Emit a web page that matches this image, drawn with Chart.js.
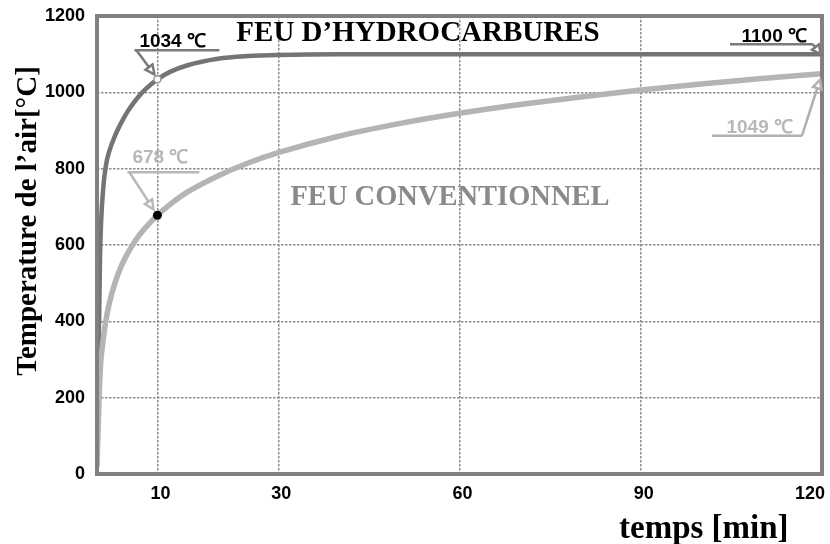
<!DOCTYPE html>
<html>
<head>
<meta charset="utf-8">
<script src="https://cdn.jsdelivr.net/npm/chart.js@4.4.1/dist/chart.umd.min.js"></script>
<style>
  html, body { margin: 0; padding: 0; background: #fff; }
  canvas { display: block; }
</style>
</head>
<body>
<canvas id="fireChart" width="830" height="544"></canvas>
<script>
// ---------- DATA ----------
const times = [0, 0.5, 1, 1.5, 2, 3, 4, 5, 6, 7, 8, 10, 12, 15, 20, 25, 30, 40, 50, 60, 70, 80, 90, 100, 110, 120];
const hydroTemps = [20, 568, 743, 810, 844, 887, 920, 948, 971, 991, 1008, 1034, 1053, 1071, 1088, 1095, 1098, 1100, 1100, 1100, 1100, 1100, 1100, 1100, 1100, 1100];
const isoTemps = [20, 261, 349, 404, 445, 502, 544, 576, 603, 626, 645, 678, 705, 739, 781, 815, 842, 885, 918, 945, 968, 988, 1006, 1022, 1036, 1049];

const xTicks = [10, 30, 60, 90, 120];
const yTicks = [0, 200, 400, 600, 800, 1000, 1200];

// marked values (time, temperature)
const markTimes = [10, 10, 120, 120];
const markTemps = [1034, 678, 1100, 1049];

const hydroName = "FEU D\u2019HYDROCARBURES";
const isoName = "FEU CONVENTIONNEL";
const yTitle = "Temperature de l\u2019air[\u00B0C]";
const xTitle = "temps [min]";

const serif = "'Liberation Serif', 'Times New Roman', serif";

// ---------- HELPERS ----------
function toPoints(xs, ys) {
  return xs.map((x, i) => ({ x: x, y: ys[i] }));
}

function arrow(ctx, x1, y1, x2, y2) {
  const ang = Math.atan2(y2 - y1, x2 - x1);
  const len = 10, spread = 0.45;
  ctx.beginPath();
  ctx.moveTo(x1, y1);
  ctx.lineTo(x2 - Math.cos(ang) * len * 0.8, y2 - Math.sin(ang) * len * 0.8);
  ctx.stroke();
  ctx.beginPath();
  ctx.moveTo(x2, y2);
  ctx.lineTo(x2 - len * Math.cos(ang - spread), y2 - len * Math.sin(ang - spread));
  ctx.lineTo(x2 - len * Math.cos(ang + spread), y2 - len * Math.sin(ang + spread));
  ctx.closePath();
  ctx.fillStyle = "#fff";
  ctx.fill();
  ctx.stroke();
}

// ---------- OVERLAY PLUGIN ----------
const overlay = {
  id: "overlay",
  afterDatasetsDraw(chart) {
    const ctx = chart.ctx;
    const area = chart.chartArea;
    const xs = chart.scales.x, ys = chart.scales.y;
    ctx.save();

    // frame
    ctx.strokeStyle = "#808080";
    ctx.lineWidth = 4;
    ctx.strokeRect(area.left, area.top, area.right - area.left, area.bottom - area.top);

    // curve names
    ctx.textAlign = "center";
    ctx.textBaseline = "alphabetic";
    ctx.font = "bold 29px " + serif;
    ctx.fillStyle = "#000";
    ctx.fillText(hydroName, 418, 41);
    ctx.font = "bold 28.5px " + serif;
    ctx.fillStyle = "#8a8a8a";
    ctx.fillText(isoName, 450, 205);

    // axis titles
    ctx.save();
    ctx.translate(29, 221);
    ctx.rotate(-Math.PI / 2);
    ctx.font = "bold 29px " + serif;
    ctx.fillStyle = "#000";
    ctx.textBaseline = "middle";
    ctx.fillText(yTitle, 0, 0);
    ctx.restore();

    ctx.font = "bold 33px " + serif;
    ctx.fillStyle = "#000";
    ctx.textAlign = "left";
    ctx.fillText(xTitle, 619, 538);

    // value call-outs
    const pts = markTimes.map((t, i) => ({ x: xs.getPixelForValue(t), y: ys.getPixelForValue(markTemps[i]) }));
    const label = v => v + " \u2103";
    ctx.font = "bold 19px 'Liberation Sans', Arial, sans-serif";
    ctx.lineWidth = 2.5;

    // 1034
    let p = pts[0];
    ctx.fillStyle = "#000";
    ctx.textAlign = "left";
    ctx.fillText(label(markTemps[0]), p.x - 18, p.y - 32);
    ctx.strokeStyle = "#7a7a7a";
    ctx.beginPath(); ctx.moveTo(p.x - 23, p.y - 29); ctx.lineTo(p.x + 62, p.y - 29); ctx.stroke();
    arrow(ctx, p.x - 21, p.y - 29, p.x - 3, p.y - 5);
    ctx.lineWidth = 1.5;
    ctx.strokeStyle = "#999";
    ctx.fillStyle = "#fff";
    ctx.beginPath(); ctx.arc(p.x, p.y, 3.5, 0, Math.PI * 2); ctx.fill(); ctx.stroke();

    // 678
    ctx.lineWidth = 2.5;
    p = pts[1];
    ctx.fillStyle = "#b8b8b8";
    ctx.fillText(label(markTemps[1]), p.x - 25, p.y - 52);
    ctx.strokeStyle = "#b8b8b8";
    ctx.beginPath(); ctx.moveTo(p.x - 30, p.y - 43); ctx.lineTo(p.x + 42, p.y - 43); ctx.stroke();
    arrow(ctx, p.x - 28, p.y - 43, p.x - 4, p.y - 6);
    ctx.fillStyle = "#000";
    ctx.beginPath(); ctx.arc(p.x, p.y, 4.5, 0, Math.PI * 2); ctx.fill();

    // 1100
    p = pts[2];
    ctx.fillStyle = "#000";
    ctx.textAlign = "right";
    ctx.fillText(label(markTemps[2]), p.x - 15, p.y - 12);
    ctx.strokeStyle = "#7a7a7a";
    ctx.beginPath(); ctx.moveTo(p.x - 92, p.y - 10); ctx.lineTo(p.x - 9, p.y - 10); ctx.stroke();
    arrow(ctx, p.x - 9, p.y - 10, p.x - 1, p.y);

    // 1049
    p = pts[3];
    ctx.fillStyle = "#b8b8b8";
    ctx.fillText(label(markTemps[3]), p.x - 29, p.y + 59);
    ctx.strokeStyle = "#b0b0b0";
    ctx.beginPath(); ctx.moveTo(p.x - 110, p.y + 62); ctx.lineTo(p.x - 20, p.y + 62); ctx.stroke();
    arrow(ctx, p.x - 20, p.y + 62, p.x - 2, p.y + 6);

    ctx.restore();
  }
};

// ---------- CHART ----------
const tickFont = { family: "'Liberation Sans', Arial, sans-serif", size: 18, weight: "bold" };
const gridCfg = { color: "#8c8c8c", lineWidth: 1.5, drawTicks: false };
const plainNumber = v => String(v);

new Chart(document.getElementById("fireChart"), {
  type: "line",
  data: {
    datasets: [
      {
        label: isoName,
        data: toPoints(times, isoTemps),
        borderColor: "#b4b4b4",
        borderWidth: 5.5,
        pointRadius: 0,
        cubicInterpolationMode: "monotone",
      },
      {
        label: hydroName,
        data: toPoints(times, hydroTemps),
        borderColor: "#747474",
        borderWidth: 4.5,
        pointRadius: 0,
        cubicInterpolationMode: "monotone",
      },
    ],
  },
  options: {
    responsive: false,
    animation: false,
    layout: { padding: { top: 16, right: 8, left: 0, bottom: 0 } },
    plugins: {
      legend: { display: false },
      tooltip: { enabled: false },
    },
    scales: {
      x: {
        type: "linear",
        min: 0,
        max: 120,
        // leading 0 gets an empty label so that 120 can be right-aligned ("inner")
        afterBuildTicks: axis => { axis.ticks = [0].concat(xTicks).map(v => ({ value: v })); },
        afterFit: scale => { scale.height = 70; scale.paddingLeft = 0; scale.paddingRight = 0; },
        grid: gridCfg,
        border: { display: false, dash: [2.5, 1.5] },
        ticks: {
          font: tickFont,
          color: "#000",
          padding: 9,
          maxRotation: 0,
          align: "inner",
          labelOffset: 3,
          callback: v => (xTicks.includes(v) ? plainNumber(v) : ""),
        },
      },
      y: {
        min: 0,
        max: 1200,
        afterBuildTicks: axis => { axis.ticks = yTicks.map(v => ({ value: v })); },
        afterFit: scale => { scale.width = 97; scale.paddingTop = 0; scale.paddingBottom = 0; },
        grid: gridCfg,
        border: { display: false, dash: [2.5, 1.5] },
        ticks: { font: tickFont, color: "#000", padding: 12, callback: plainNumber },
      },
    },
  },
  plugins: [overlay],
});
</script>
</body>
</html>
